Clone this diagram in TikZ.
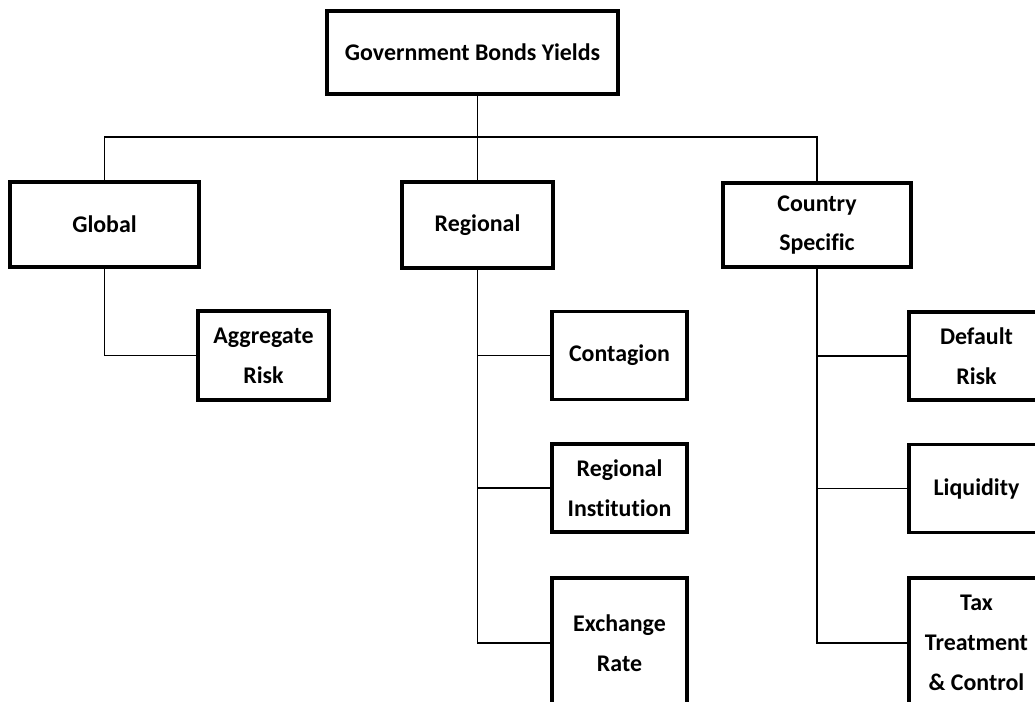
\documentclass[tikz,border=0pt]{standalone}
\usepackage{fontspec}
\setmainfont{Carlito}[Ligatures=NoCommon]
\usepackage{tikz}
\usetikzlibrary{positioning, calc}

\begin{document}
\begin{tikzpicture}[
    x=0.02cm, y=-0.02cm,
    font=\fontsize{13.6}{22.7}\selectfont\bfseries,
    box/.style={
      draw,
      line width=1.9pt,
      align=center,
      inner sep=2pt
    },
    smallbox/.style={
      box,
      minimum width=2.7cm,
      minimum height=1.76cm
    },
    tallbox/.style={
      box,
      minimum width=2.7cm,
      minimum height=2.6cm
    },
    link/.style={line width=1.1pt}
]
\useasboundingbox (0,0) rectangle (1035,702);
\clip (0,0) rectangle (1035,702);

% top level
\node[box, minimum width=5.82cm, minimum height=1.66cm] (root) at (472.5,52.5) {Government Bonds Yields};

% second level
\node[box, minimum width=3.78cm, minimum height=1.7cm] (global) at (104.5,224.5) {Global};
\node[box, minimum width=3.02cm, minimum height=1.72cm] (regional) at (477.5,225) {Regional};
\node[box, minimum width=3.76cm, minimum height=1.68cm] (country) at (817,225) {Country\\Specific};

% factors
\node[box, minimum width=2.62cm, minimum height=1.78cm] (aggregate) at (263.5,355.5) {Aggregate\\Risk};

\node[smallbox] (contagion) at (619.5,355.5) {Contagion};
\node[smallbox] (institution) at (619.5,488) {Regional\\Institution};
\node[tallbox] (exchange) at (619.5,643) {Exchange\\Rate};

\node[smallbox] (default) at (976.5,356) {Default\\Risk};
\node[smallbox] (liquidity) at (976.5,488.5) {Liquidity};
\node[tallbox] (tax) at (976.5,643) {Tax\\Treatment\\\& Control};

% connectors
\coordinate (bar) at (477.5,137);
\draw[link] (root.south -| bar) -- (bar);
\draw[link] (global.north) |- (bar) -| (country.north);
\draw[link] (bar) -- (regional.north);

\draw[link] (global.south) |- (aggregate.west);

\draw[link] (regional.south) |- (exchange.west);
\draw[link] (regional.south |- contagion.west) -- (contagion.west);
\draw[link] (regional.south |- institution.west) -- (institution.west);

\draw[link] (country.south) |- (tax.west);
\draw[link] (country.south |- default.west) -- (default.west);
\draw[link] (country.south |- liquidity.west) -- (liquidity.west);
\end{tikzpicture}
\end{document}
